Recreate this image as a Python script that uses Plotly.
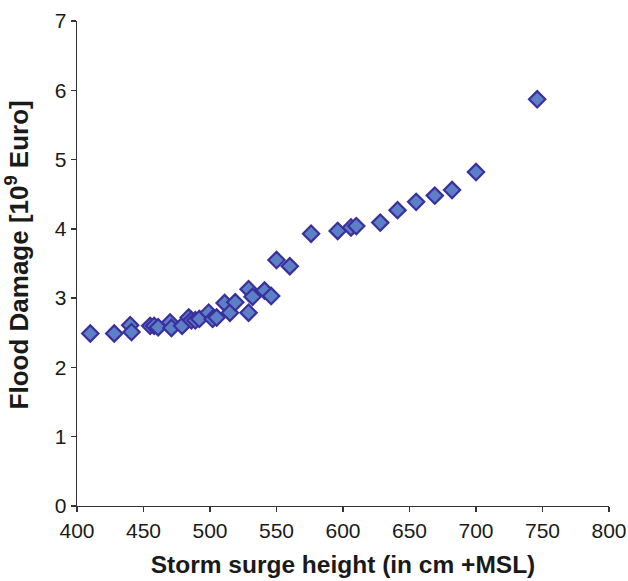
import plotly.graph_objects as go

surge_height = [410, 428, 440, 441, 455, 458, 461, 470, 471, 479, 484, 486, 489, 492,
                499, 502, 505, 511, 515, 519, 529, 529, 532, 541, 546, 550, 560,
                576, 596, 606, 610, 628, 641, 655, 669, 682, 700, 746]
flood_damage = [2.49, 2.49, 2.61, 2.51, 2.60, 2.60, 2.58, 2.65, 2.57, 2.60, 2.72, 2.68, 2.68, 2.70,
                2.79, 2.70, 2.72, 2.93, 2.79, 2.94, 3.13, 2.79, 3.02, 3.11, 3.03, 3.55, 3.46,
                3.93, 3.97, 4.02, 4.04, 4.09, 4.27, 4.39, 4.48, 4.56, 4.82, 5.87]

x_ticks = [400, 450, 500, 550, 600, 650, 700, 750, 800]
y_ticks = [0, 1, 2, 3, 4, 5, 6, 7]

fig = go.Figure()
fig.add_trace(go.Scatter(
    x=surge_height, y=flood_damage, mode="markers",
    marker=dict(symbol="diamond", size=12.5, color="#5b80c6",
                line=dict(color="#3b2f9e", width=2.2)),
    showlegend=False, cliponaxis=False, hoverinfo="skip",
))

font_family = "Liberation Sans, Arial, sans-serif"
fig.update_layout(
    width=628, height=581,
    margin=dict(l=77, r=19, t=21, b=75),
    plot_bgcolor="white", paper_bgcolor="white",
    font=dict(family=font_family, color="#1a1a1a", size=21),
    xaxis=dict(
        range=[400, 800], tickvals=x_ticks, ticktext=[str(v) for v in x_ticks],
        showgrid=False, zeroline=False, showline=True, linecolor="#333", linewidth=1.3,
        ticks="outside", ticklen=5, tickcolor="#333", tickwidth=1.3,
        tickfont=dict(size=21), automargin=False,
        title=dict(text="<b>Storm surge height (in cm +MSL)</b>", font=dict(size=24.5), standoff=15),
    ),
    yaxis=dict(
        range=[0, 7], tickvals=y_ticks, ticktext=[str(v) for v in y_ticks],
        showgrid=False, zeroline=False, showline=True, linecolor="#333", linewidth=1.3,
        ticks="outside", ticklen=5, tickcolor="#333", tickwidth=1.3,
        tickfont=dict(size=21), automargin=False,
    ),
    annotations=[dict(
        text="<b>Flood Damage [10<sup>9</sup> Euro]</b>",
        xref="paper", yref="paper", x=-0.112, y=0.5175,
        xanchor="center", yanchor="middle", textangle=-90, showarrow=False,
        font=dict(size=26, family=font_family, color="#1a1a1a"),
    )],
)
fig.write_html(
    "out.html",
    config={"displayModeBar": False, "staticPlot": True},
    post_script="document.body.style.margin='0';document.body.style.overflow='hidden';",
)
